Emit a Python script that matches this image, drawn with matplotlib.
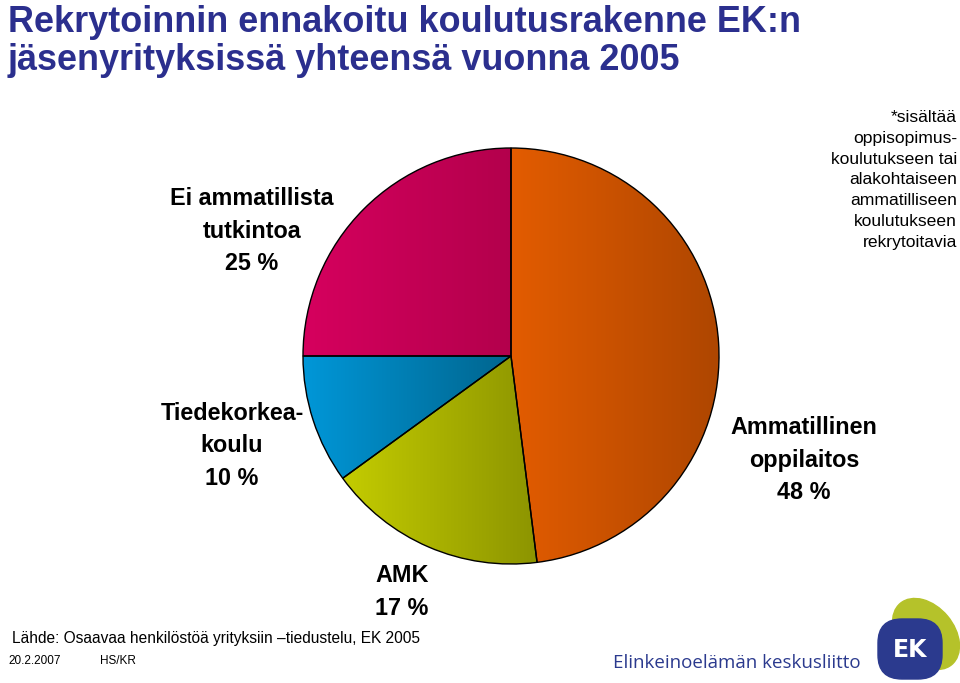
import numpy as np
import matplotlib
matplotlib.use("Agg")
import matplotlib.pyplot as plt
from matplotlib.colors import LinearSegmentedColormap
from matplotlib.patches import Ellipse, FancyBboxPatch

plt.rcParams['font.family'] = ['Liberation Sans', 'DejaVu Sans']

# data (clockwise from the top)
labels = ["Ammatillinen\noppilaitos\n48 %", "AMK\n17 %",
          "Tiedekorkea-\nkoulu\n10 %", "Ei ammatillista\ntutkintoa\n25 %"]
shares = [48, 17, 10, 25]
# horizontal gradient of each slice: left colour, right colour
grad_left = ["#E35C00", "#C4CC00", "#0097D8", "#D6005E"]
grad_right = ["#AE4600", "#8C9400", "#00658E", "#B3004C"]

title_lines = ["Rekrytoinnin ennakoitu koulutusrakenne EK:n",
               "jäsenyrityksissä yhteensä vuonna 2005"]

W, H = 960, 683
fig = plt.figure(figsize=(W / 100, H / 100), dpi=100)
fig.patch.set_facecolor("white")


def px(x, y):
    # pixel position (top-left origin) -> figure fraction
    return x / W, 1 - y / H


# pie axes placed by pixels
cx, cy, r = 511, 356, 208
pad = 4
ax = fig.add_axes([(cx - r - pad) / W, (H - cy - r - pad) / H,
                   (2 * r + 2 * pad) / W, (2 * r + 2 * pad) / H])
lim = 1 + pad / r
wedges, _ = ax.pie(shares, startangle=90, counterclock=False, radius=1,
                   wedgeprops=dict(edgecolor="black", linewidth=1.0))

grad = np.linspace(0, 1, 256).reshape(1, -1)
for w, c0, c1 in zip(wedges, grad_left, grad_right):
    ext = w.get_path().get_extents()
    cmap = LinearSegmentedColormap.from_list("g", [c0, c1])
    im = ax.imshow(grad, cmap=cmap, aspect="auto",
                   extent=(ext.x0, ext.x1, ext.y0, ext.y1), zorder=0.5)
    im.set_clip_path(w)
    w.set_facecolor("none")
    w.set_zorder(1)

ax.set_xlim(-lim, lim)
ax.set_ylim(-lim, lim)
ax.set_aspect("auto")
ax.axis("off")

# title
for line, yb in zip(title_lines, [32, 70]):
    fig.text(*px(8, yb), line, fontsize=25.9, fontweight="bold", color="#2B2F8E",
             ha="left", va="baseline")

# slice labels
label_pos = [(804, 460), (402, 592), (232, 446), (252, 231)]
for lab, (x, y) in zip(labels, label_pos):
    fig.text(*px(x, y), lab, fontsize=16.8, fontweight="bold", color="black",
             ha="center", va="center", linespacing=1.53, multialignment="center")

# footnote
fig.text(*px(957, 180), "*sisältää\noppisopimus-\nkoulutukseen tai\nalakohtaiseen\nammatilliseen\nkoulutukseen\nrekrytoitavia",
         fontsize=12.6, color="black", ha="right", va="center", multialignment="right",
         linespacing=1.48)

# source
fig.text(*px(12, 643), "Lähde: Osaavaa henkilöstöä yrityksiin \u2013tiedustelu, EK 2005",
         fontsize=11.2, color="black", ha="left", va="baseline")
fig.text(*px(8, 664), "20.2.2007", fontsize=8.5, color="black", ha="left", va="baseline")
fig.text(*px(100, 664), "HS/KR", fontsize=8.5, color="black", ha="left", va="baseline")

# logo
fig.text(*px(613, 668), "Elinkeinoelämän keskusliitto", family="Open Sans",
         fontsize=13.5, color="#2B3A8E", ha="left", va="baseline")
lax = fig.add_axes([860 / W, 0, 100 / W, 88 / H])
lax.set_xlim(860, 960)
lax.set_ylim(683, 595)
lax.axis("off")
lax.add_patch(Ellipse((926, 634), 56, 80, angle=-40, color="#B5C22A", zorder=1))
lax.add_patch(FancyBboxPatch((883, 624), 54, 50, boxstyle="round,pad=5,rounding_size=24",
                             color="#2B3A8E", zorder=2))
lax.text(910, 650, "EK", color="white", fontsize=17, fontweight="bold",
         family="DejaVu Sans", ha="center", va="center", zorder=3)

fig.savefig("out.png", dpi=100, facecolor="white")
